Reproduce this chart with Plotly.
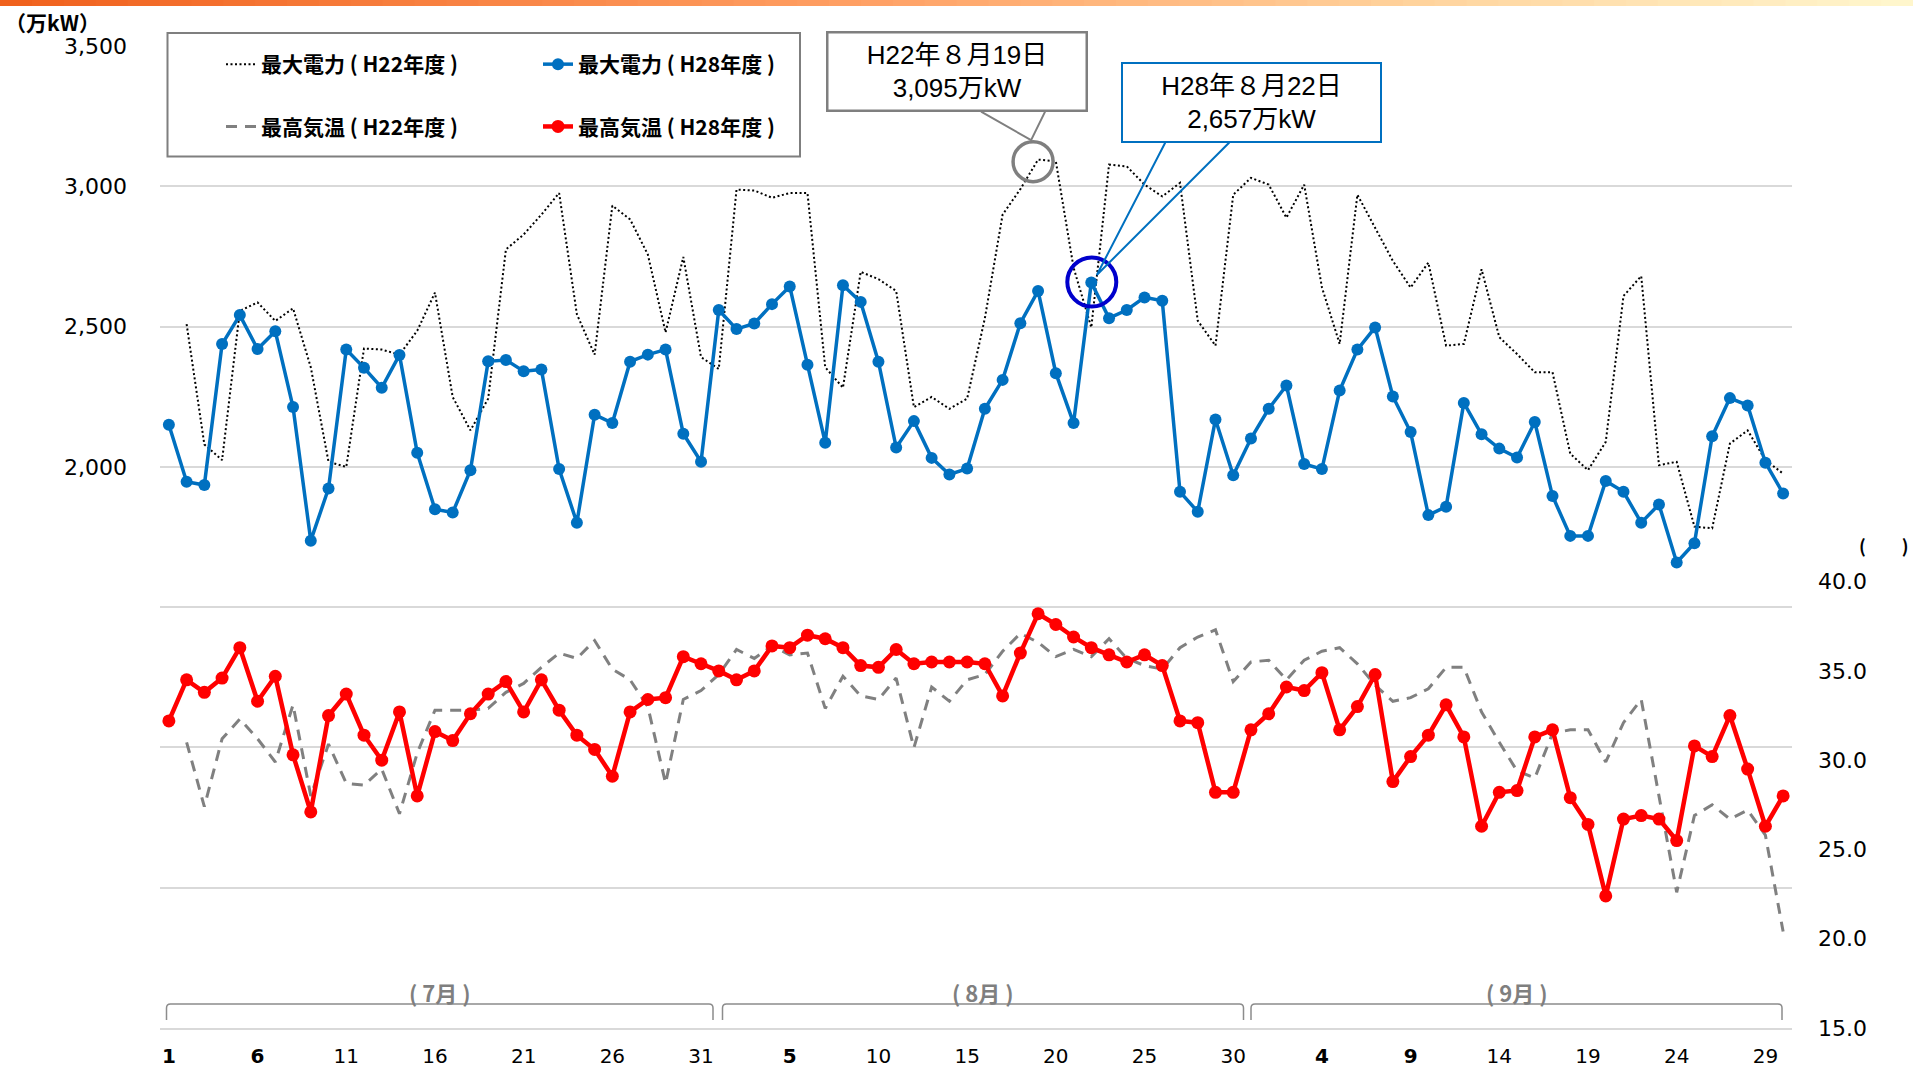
import plotly.graph_objects as go

# ---------------- data ----------------
month_nums = [7, 8, 9]
month_days = [31, 31, 30]
dates = [f"{m}/{d}" for m, n in zip(month_nums, month_days) for d in range(1, n + 1)]

# 最大電力（H28年度） 万kW
power_h28 = [2150, 1947, 1935, 2438, 2541, 2420, 2483, 2213, 1737, 1923,
             2418, 2353, 2282, 2399, 2050, 1849, 1837, 1988, 2376, 2381,
             2341, 2347, 1992, 1801, 2186, 2156, 2375, 2400, 2418, 2118,
             2018,
             2559, 2491, 2511, 2580, 2643, 2364, 2086, 2647, 2588, 2375,
             2069, 2163, 2032, 1973, 1994, 2207, 2310, 2512, 2627, 2334,
             2156, 2657, 2530, 2559, 2604, 2592, 1911, 1840, 2169, 1970,
             2101,
             2207, 2290, 2010, 1992, 2272, 2418, 2497, 2251, 2124, 1828,
             1858, 2228, 2116, 2065, 2033, 2160, 1896, 1754, 1754, 1950,
             1911, 1801, 1866, 1659, 1728, 2109, 2245, 2219, 2015, 1905]

# 最大電力（H22年度） 万kW
power_h22 = [None, 2509, 2080, 2024, 2556, 2586, 2520, 2565, 2355, 2018,
             2000, 2422, 2418, 2400, 2485, 2621, 2249, 2130, 2243, 2775,
             2828, 2899, 2976, 2544, 2400, 2931, 2882, 2757, 2479, 2748,
             2391,
             2349, 2988, 2985, 2959, 2976, 2976, 2355, 2282, 2695, 2669,
             2627, 2213, 2249, 2207, 2243, 2530, 2899, 2990, 3095, 3089,
             2710, 2497, 3077, 3071, 3006, 2964, 3012, 2521, 2432, 2970,
             3030,
             3006, 2888, 3006, 2640, 2438, 2970, 2852, 2734, 2639, 2728,
             2432, 2438, 2704, 2462, 2402, 2337, 2337, 2047, 1988, 2089,
             2609, 2680, 2006, 2018, 1787, 1781, 2083, 2130, 2024, 1976]

# 最高気温（H28年度） ℃
temp_h28 = [32.2, 34.5, 33.8, 34.6, 36.3, 33.3, 34.7, 30.3, 27.1, 32.5,
            33.7, 31.4, 30.0, 32.7, 28.0, 31.6, 31.1, 32.6, 33.7, 34.4,
            32.7, 34.5, 32.8, 31.4, 30.6, 29.1, 32.7, 33.4, 33.5, 35.8,
            35.4,
            35.0, 34.5, 35.0, 36.4, 36.3, 37.0, 36.8, 36.3, 35.3, 35.2,
            36.2, 35.4, 35.5, 35.5, 35.5, 35.4, 33.6, 36.0, 38.2, 37.6,
            36.9, 36.3, 35.9, 35.5, 35.9, 35.3, 32.2, 32.1, 28.2, 28.2,
            31.7,
            32.6, 34.1, 33.9, 34.9, 31.7, 33.0, 34.8, 28.8, 30.2, 31.4,
            33.1, 31.3, 26.3, 28.2, 28.3, 31.3, 31.7, 27.9, 26.4, 22.4,
            26.7, 26.9, 26.7, 25.5, 30.8, 30.2, 32.5, 29.5, 26.3, 28.0]

# 最高気温（H22年度） ℃
temp_h22 = [None, 31.0, 27.4, 31.2, 32.3, 31.2, 29.9, 33.1, 28.0, 30.9,
            28.7, 28.6, 29.5, 27.0, 30.4, 32.8, 32.8, 32.8, 32.9, 33.8,
            34.3, 35.2, 36.0, 35.7, 36.7, 35.1, 34.5, 33.0, 28.7, 33.4,
            33.9,
            34.8, 36.2, 35.7, 36.4, 35.9, 36.0, 32.9, 34.7, 33.6, 33.4,
            34.6, 30.7, 34.1, 33.3, 34.5, 34.8, 36.1, 37.1, 36.6, 35.8,
            36.2, 35.8, 36.8, 35.7, 35.3, 35.1, 36.3, 36.9, 37.3, 34.4,
            35.5,
            35.6, 34.5, 35.6, 36.1, 36.3, 35.4, 34.2, 33.3, 33.5, 34.0,
            35.2, 35.2, 32.7, 31.0, 29.4, 29.0, 31.5, 31.7, 31.7, 29.9,
            32.1, 33.4, 28.0, 22.6, 26.9, 27.5, 26.7, 27.2, 25.8, 20.4]

tick_days = {7: [1, 6, 11, 16, 21, 26, 31],
             8: [5, 10, 15, 20, 25, 30],
             9: [4, 9, 14, 19, 24, 29]}
month_labels = ["( 7月 )", "( 8月 )", "( 9月 )"]

power_tickvals = [0, 500, 1000, 1500, 2000, 2500, 3000, 3500]
power_ticktext = ["", "", "", "", "2,000", "2,500", "3,000", "3,500"]
temp_tickvals = [15, 20, 25, 30, 35, 40]
temp_ticktext = ["15.0", "20.0", "25.0", "30.0", "35.0", "40.0"]

names = ["最大電力 ( H22年度 )", "最大電力 ( H28年度 )",
         "最高気温 ( H22年度 )", "最高気温 ( H28年度 )"]

# ---------------- layout geometry ----------------
W, H = 1913, 1071
L, R, T, B = 160, 121, 46, 43
PW, PH = W - L - R, H - T - B


def fx(px):
    return (px - L) / PW


def fy(py):
    return (H - B - py) / PH


tick_cats = [f"{m}/{d}" for m in month_nums for d in tick_days[m]]
tick_text = [f"<b>{d}</b>" if d < 10 else str(d) for m in month_nums for d in tick_days[m]]
tick_bounds = [dates.index(c) - 0.5 for c in tick_cats]

BLUE = "#0070C0"
RED = "#FF0000"
GRAY = "#808080"
GRID = "#D9D9D9"
NUMFONT = "DejaVu Sans"
JPFONT = "Noto Sans CJK JP"

fig = go.Figure()
fig.add_trace(go.Scatter(x=dates, y=power_h22, mode="lines", name=names[0],
                         line=dict(color="#000000", width=2, dash="2px,2.5px"),
                         legend="legend", legendgroup="a"))
fig.add_trace(go.Scatter(x=dates, y=power_h28, mode="lines+markers", name=names[1],
                         line=dict(color=BLUE, width=3.5),
                         marker=dict(color=BLUE, size=12),
                         legend="legend2", legendgroup="b"))
fig.add_trace(go.Scatter(x=dates, y=temp_h22, mode="lines", name=names[2], yaxis="y2",
                         line=dict(color=GRAY, width=3, dash="11px,8px"),
                         legend="legend", legendgroup="c"))
fig.add_trace(go.Scatter(x=dates, y=temp_h28, mode="lines+markers", name=names[3], yaxis="y2",
                         line=dict(color=RED, width=4.5),
                         marker=dict(color=RED, size=13),
                         legend="legend2", legendgroup="d"))

shapes = []
# top gradient bar
stops = [(0.0, (240, 96, 28)), (0.45, (255, 160, 100)), (0.75, (255, 212, 158)), (1.0, (255, 247, 206))]
nseg = 60
for k in range(nseg):
    t = (k + 0.5) / nseg
    for j in range(len(stops) - 1):
        if stops[j][0] <= t <= stops[j + 1][0]:
            a, ca = stops[j]
            b, cb = stops[j + 1]
            f = (t - a) / (b - a)
            col = tuple(int(round(ca[c] + (cb[c] - ca[c]) * f)) for c in range(3))
            break
    shapes.append(dict(type="rect", xref="paper", yref="paper",
                       x0=fx(W * k / nseg), x1=fx(W * (k + 1) / nseg + 1),
                       y0=fy(6), y1=fy(0), line=dict(width=0),
                       fillcolor=f"rgb{col}", layer="above"))

# legend frame
shapes.append(dict(type="rect", xref="paper", yref="paper",
                   x0=fx(167.5), x1=fx(800), y0=fy(156.5), y1=fy(33),
                   line=dict(color="#7F7F7F", width=2), fillcolor="white", layer="above"))

# highlight circles + callout wedges, anchored to data points
shapes.append(dict(type="circle", xref="x", yref="y", xsizemode="pixel", ysizemode="pixel",
                   xanchor="8/19", yanchor=power_h22[dates.index("8/19")],
                   x0=-25, x1=15, y0=-22, y1=18,
                   line=dict(color="#7F7F7F", width=3.5), layer="above"))
shapes.append(dict(type="path", xref="x", yref="y", xsizemode="pixel", ysizemode="pixel",
                   xanchor="8/19", yanchor=power_h22[dates.index("8/19")],
                   path="M-57,48 L-7,19.5 L7,48",
                   line=dict(color="#7F7F7F", width=2), layer="above"))
shapes.append(dict(type="circle", xref="x", yref="y", xsizemode="pixel", ysizemode="pixel",
                   xanchor="8/22", yanchor=power_h28[dates.index("8/22")],
                   x0=-24, x1=25, y0=-24, y1=25,
                   line=dict(color="#0000CC", width=4), layer="above"))
shapes.append(dict(type="path", xref="x", yref="y", xsizemode="pixel", ysizemode="pixel",
                   xanchor="8/22", yanchor=power_h28[dates.index("8/22")],
                   path="M74,140 L5.5,7.5 L138,140",
                   line=dict(color=BLUE, width=2), layer="above"))

# month brackets under the axis
brackets = [(166.5, 713), (722.5, 1243.5), (1251, 1782)]
ytop, ybot, rr = 1004, 1020, 4
for (a, b) in brackets:
    p = (f"M{fx(a)},{fy(ybot)} L{fx(a)},{fy(ytop + rr)} Q{fx(a)},{fy(ytop)} {fx(a + rr)},{fy(ytop)} "
         f"L{fx(b - rr)},{fy(ytop)} Q{fx(b)},{fy(ytop)} {fx(b)},{fy(ytop + rr)} L{fx(b)},{fy(ybot)}")
    shapes.append(dict(type="path", xref="paper", yref="paper", path=p,
                       line=dict(color="#8C8C8C", width=1.5)))

annotations = []
for (a, b), lab in zip(brackets, month_labels):
    annotations.append(dict(x=fx((a + b) / 2), y=fy(992), xref="paper", yref="paper",
                            text=f"<b>{lab}</b>", showarrow=False,
                            font=dict(family=JPFONT, size=22, color="#7F7F7F"),
                            xanchor="center", yanchor="middle"))

annotations.append(dict(x=fx(956.75), y=fy(71.7), xref="paper", yref="paper",
                        text=f"H22年８月19日<br>{power_h22[dates.index('8/19')]:,}万kW",
                        showarrow=False, bgcolor="white", bordercolor="#7F7F7F",
                        borderwidth=2.5, borderpad=0, width=257, height=76,
                        font=dict(family="Liberation Sans, " + JPFONT, size=26, color="#000000"),
                        xanchor="center", yanchor="middle", align="center", valign="middle"))
annotations.append(dict(x=fx(1251.75), y=fy(102.2), xref="paper", yref="paper",
                        text=f"H28年８月22日<br>{power_h28[dates.index('8/22')]:,}万kW",
                        showarrow=False, bgcolor="white", bordercolor=BLUE,
                        borderwidth=2, borderpad=0, width=257, height=77,
                        font=dict(family="Liberation Sans, " + JPFONT, size=26, color="#000000"),
                        xanchor="center", yanchor="middle", align="center", valign="middle"))
annotations.append(dict(x=fx(52), y=fy(22), xref="paper", yref="paper",
                        text="<b>（万kW）</b>", showarrow=False,
                        font=dict(family=JPFONT, size=21, color="#000000"),
                        xanchor="center", yanchor="middle"))
annotations.append(dict(x=fx(1884), y=fy(545), xref="paper", yref="paper",
                        text="<b>(　　)</b>", showarrow=False,
                        font=dict(family=JPFONT, size=18, color="#000000"),
                        xanchor="center", yanchor="middle"))

legend_common = dict(xanchor="left", yanchor="top", bgcolor="rgba(0,0,0,0)", borderwidth=0,
                     tracegroupgap=32, orientation="v",
                     font=dict(family=JPFONT, size=21, color="#000000", weight="bold"))

fig.update_layout(
    width=W, height=H,
    margin=dict(l=L, r=R, t=T, b=B, pad=0),
    paper_bgcolor="white", plot_bgcolor="white",
    showlegend=True,
    legend=dict(x=fx(221), y=fy(44), **legend_common),
    legend2=dict(x=fx(538), y=fy(44), **legend_common),
    xaxis=dict(type="category", categoryorder="array", categoryarray=dates,
               range=[-0.5, len(dates) - 0.5], tickmode="array",
               tickvals=tick_cats, ticktext=tick_text, ticks="",
               showline=True, linecolor=GRID, linewidth=2, showgrid=False,
               zeroline=False, ticklabelstandoff=9,
               tickfont=dict(family=NUMFONT, size=20, color="#000000"), automargin=False),
    xaxis2=dict(type="linear", overlaying="x", anchor="y", side="bottom",
                range=[-0.5, len(dates) - 0.5], tickmode="array", tickvals=tick_bounds,
                ticks="inside", ticklen=8, tickwidth=1.5, tickcolor=GRID,
                showticklabels=False, showgrid=False, showline=False, zeroline=False,
                automargin=False),
    yaxis=dict(range=[0, 3500], tickmode="array", tickvals=power_tickvals, ticktext=power_ticktext,
               showgrid=True, gridcolor=GRID, gridwidth=1.5, zeroline=False, showline=False,
               ticks="", ticklabelstandoff=32,
               tickfont=dict(family=NUMFONT, size=22, color="#000000"), automargin=False),
    yaxis2=dict(range=[15, 70], overlaying="y", side="right", anchor="x",
                tickmode="array", tickvals=temp_tickvals, ticktext=temp_ticktext,
                showgrid=False, zeroline=False, showline=False, ticks="",
                ticklabelstandoff=25,
                tickfont=dict(family=NUMFONT, size=22, color="#000000"), automargin=False),
    shapes=shapes,
    annotations=annotations,
    hovermode=False,
)

fig.write_html("out.html", config={"displayModeBar": False},
               post_script="document.body.style.margin='0';document.body.style.overflow='hidden';")
